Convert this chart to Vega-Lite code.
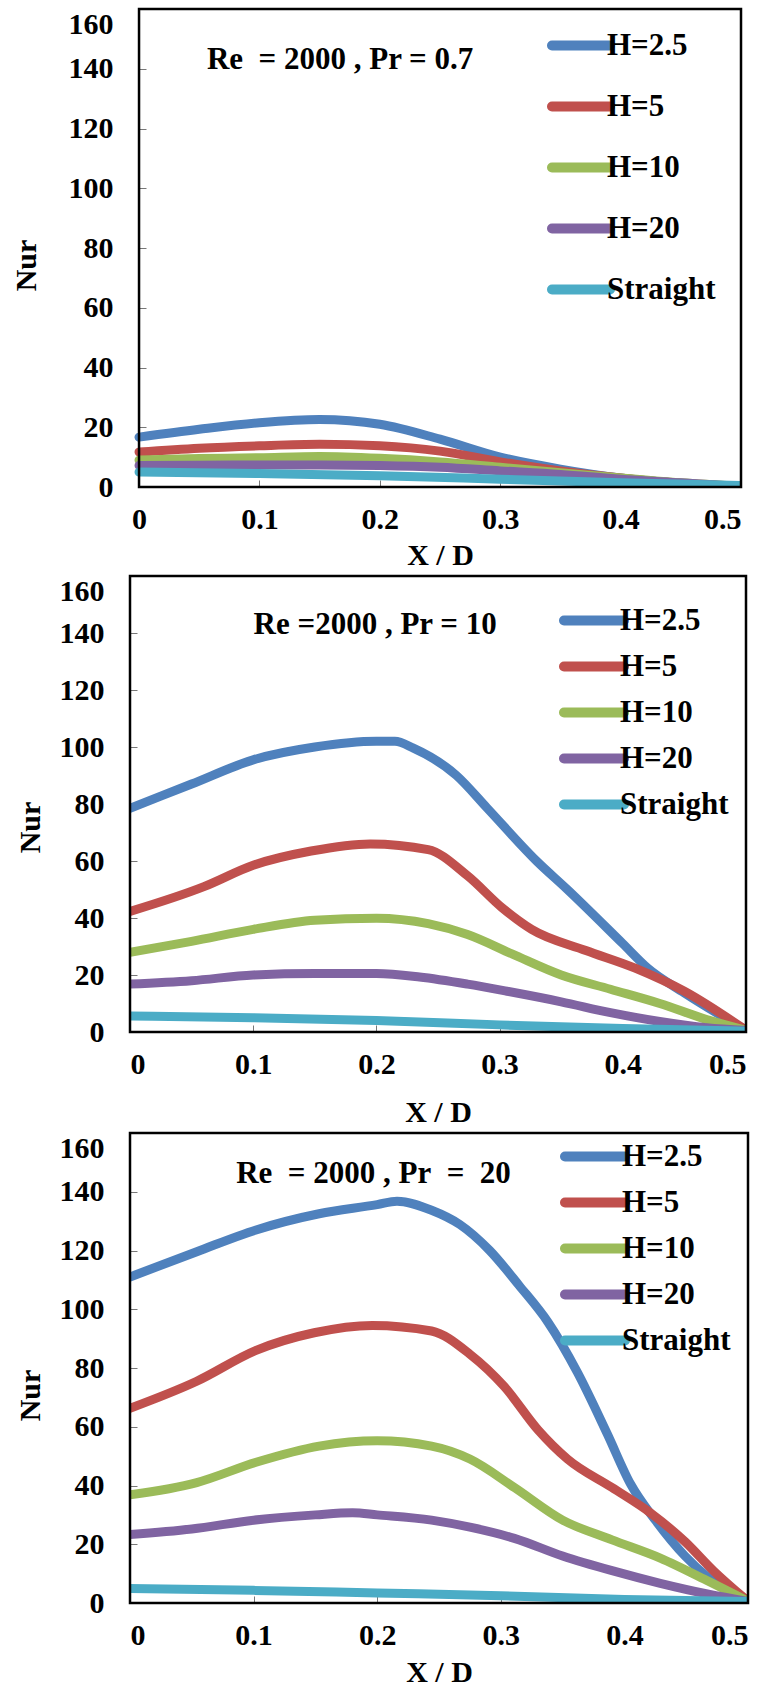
{
  "$schema": "https://vega.github.io/schema/vega-lite/v6.json",
  "background": "white",
  "padding": {"left": 11, "top": 7, "right": 5, "bottom": 0},
  "datasets": {
    "p1": [
      {"x":0,"v":16.7,"s":"H=2.5"},{"x":0.05,"v":19.3,"s":"H=2.5"},{"x":0.1,"v":21.5,"s":"H=2.5"},{"x":0.15,"v":22.6,"s":"H=2.5"},{"x":0.2,"v":21,"s":"H=2.5"},{"x":0.25,"v":16,"s":"H=2.5"},{"x":0.3,"v":10,"s":"H=2.5"},{"x":0.35,"v":6,"s":"H=2.5"},{"x":0.4,"v":3,"s":"H=2.5"},{"x":0.45,"v":1.2,"s":"H=2.5"},{"x":0.5,"v":0.2,"s":"H=2.5"},
      {"x":0,"v":11.7,"s":"H=5"},{"x":0.05,"v":13,"s":"H=5"},{"x":0.1,"v":13.8,"s":"H=5"},{"x":0.15,"v":14.3,"s":"H=5"},{"x":0.2,"v":13.8,"s":"H=5"},{"x":0.25,"v":12,"s":"H=5"},{"x":0.3,"v":8.4,"s":"H=5"},{"x":0.35,"v":5.4,"s":"H=5"},{"x":0.4,"v":3,"s":"H=5"},{"x":0.45,"v":1.2,"s":"H=5"},{"x":0.5,"v":0.2,"s":"H=5"},
      {"x":0,"v":9,"s":"H=10"},{"x":0.05,"v":9.5,"s":"H=10"},{"x":0.1,"v":9.8,"s":"H=10"},{"x":0.15,"v":10.2,"s":"H=10"},{"x":0.2,"v":9.6,"s":"H=10"},{"x":0.25,"v":8.4,"s":"H=10"},{"x":0.3,"v":6.6,"s":"H=10"},{"x":0.35,"v":4.8,"s":"H=10"},{"x":0.4,"v":3,"s":"H=10"},{"x":0.45,"v":1.4,"s":"H=10"},{"x":0.5,"v":0.2,"s":"H=10"},
      {"x":0,"v":7.2,"s":"H=20"},{"x":0.05,"v":7.3,"s":"H=20"},{"x":0.1,"v":7.4,"s":"H=20"},{"x":0.15,"v":7.4,"s":"H=20"},{"x":0.2,"v":7.2,"s":"H=20"},{"x":0.25,"v":6.6,"s":"H=20"},{"x":0.3,"v":5.4,"s":"H=20"},{"x":0.35,"v":4.2,"s":"H=20"},{"x":0.4,"v":2.6,"s":"H=20"},{"x":0.45,"v":1.4,"s":"H=20"},{"x":0.5,"v":0.2,"s":"H=20"},
      {"x":0,"v":5,"s":"Straight"},{"x":0.1,"v":4.5,"s":"Straight"},{"x":0.2,"v":3.8,"s":"Straight"},{"x":0.3,"v":2.6,"s":"Straight"},{"x":0.4,"v":1.4,"s":"Straight"},{"x":0.5,"v":0.5,"s":"Straight"}
    ],
    "p2": [
      {"x":0,"v":78.5,"s":"H=2.5"},{"x":0.05,"v":87,"s":"H=2.5"},{"x":0.1,"v":95.5,"s":"H=2.5"},{"x":0.15,"v":100,"s":"H=2.5"},{"x":0.2,"v":102,"s":"H=2.5"},{"x":0.215,"v":102,"s":"H=2.5"},{"x":0.23,"v":99.6,"s":"H=2.5"},{"x":0.265,"v":90,"s":"H=2.5"},{"x":0.29,"v":78.5,"s":"H=2.5"},{"x":0.33,"v":60,"s":"H=2.5"},{"x":0.355,"v":50,"s":"H=2.5"},{"x":0.4,"v":31,"s":"H=2.5"},{"x":0.42,"v":22.5,"s":"H=2.5"},{"x":0.45,"v":13.7,"s":"H=2.5"},{"x":0.5,"v":0.6,"s":"H=2.5"},
      {"x":0,"v":42.3,"s":"H=5"},{"x":0.06,"v":51,"s":"H=5"},{"x":0.1,"v":58.5,"s":"H=5"},{"x":0.147,"v":63.5,"s":"H=5"},{"x":0.195,"v":66,"s":"H=5"},{"x":0.242,"v":64,"s":"H=5"},{"x":0.274,"v":54.8,"s":"H=5"},{"x":0.302,"v":43.6,"s":"H=5"},{"x":0.326,"v":36,"s":"H=5"},{"x":0.37,"v":28.6,"s":"H=5"},{"x":0.41,"v":22.4,"s":"H=5"},{"x":0.45,"v":14.3,"s":"H=5"},{"x":0.5,"v":0.6,"s":"H=5"},
      {"x":0,"v":28,"s":"H=10"},{"x":0.05,"v":31.8,"s":"H=10"},{"x":0.1,"v":36,"s":"H=10"},{"x":0.15,"v":39.2,"s":"H=10"},{"x":0.2,"v":39.9,"s":"H=10"},{"x":0.242,"v":38,"s":"H=10"},{"x":0.274,"v":34.2,"s":"H=10"},{"x":0.31,"v":27.4,"s":"H=10"},{"x":0.35,"v":20,"s":"H=10"},{"x":0.39,"v":15,"s":"H=10"},{"x":0.43,"v":10,"s":"H=10"},{"x":0.468,"v":4.4,"s":"H=10"},{"x":0.5,"v":0.6,"s":"H=10"},
      {"x":0,"v":16.8,"s":"H=20"},{"x":0.05,"v":18,"s":"H=20"},{"x":0.1,"v":20,"s":"H=20"},{"x":0.15,"v":20.5,"s":"H=20"},{"x":0.2,"v":20.5,"s":"H=20"},{"x":0.235,"v":19.3,"s":"H=20"},{"x":0.274,"v":16.8,"s":"H=20"},{"x":0.306,"v":14.3,"s":"H=20"},{"x":0.35,"v":10.6,"s":"H=20"},{"x":0.39,"v":6.8,"s":"H=20"},{"x":0.43,"v":3.7,"s":"H=20"},{"x":0.468,"v":1.5,"s":"H=20"},{"x":0.5,"v":0.5,"s":"H=20"},
      {"x":0,"v":5.6,"s":"Straight"},{"x":0.1,"v":5,"s":"Straight"},{"x":0.2,"v":4,"s":"Straight"},{"x":0.3,"v":2.5,"s":"Straight"},{"x":0.4,"v":1.2,"s":"Straight"},{"x":0.5,"v":0.3,"s":"Straight"}
    ],
    "p3": [
      {"x":0,"v":111,"s":"H=2.5"},{"x":0.054,"v":119.6,"s":"H=2.5"},{"x":0.102,"v":127,"s":"H=2.5"},{"x":0.153,"v":132.5,"s":"H=2.5"},{"x":0.2,"v":135.6,"s":"H=2.5"},{"x":0.216,"v":136.8,"s":"H=2.5"},{"x":0.244,"v":133.7,"s":"H=2.5"},{"x":0.267,"v":128.8,"s":"H=2.5"},{"x":0.291,"v":120,"s":"H=2.5"},{"x":0.315,"v":108,"s":"H=2.5"},{"x":0.338,"v":95.7,"s":"H=2.5"},{"x":0.362,"v":78.5,"s":"H=2.5"},{"x":0.386,"v":57.7,"s":"H=2.5"},{"x":0.405,"v":40.5,"s":"H=2.5"},{"x":0.425,"v":28.2,"s":"H=2.5"},{"x":0.449,"v":16,"s":"H=2.5"},{"x":0.468,"v":8.6,"s":"H=2.5"},{"x":0.5,"v":0.6,"s":"H=2.5"},
      {"x":0,"v":66.3,"s":"H=5"},{"x":0.054,"v":75.5,"s":"H=5"},{"x":0.102,"v":86,"s":"H=5"},{"x":0.149,"v":92,"s":"H=5"},{"x":0.196,"v":94.5,"s":"H=5"},{"x":0.244,"v":92.6,"s":"H=5"},{"x":0.275,"v":84.7,"s":"H=5"},{"x":0.303,"v":73.6,"s":"H=5"},{"x":0.33,"v":59,"s":"H=5"},{"x":0.354,"v":49,"s":"H=5"},{"x":0.39,"v":39.3,"s":"H=5"},{"x":0.421,"v":30.7,"s":"H=5"},{"x":0.449,"v":20.9,"s":"H=5"},{"x":0.472,"v":11,"s":"H=5"},{"x":0.5,"v":0.6,"s":"H=5"},
      {"x":0,"v":36.8,"s":"H=10"},{"x":0.054,"v":41,"s":"H=10"},{"x":0.102,"v":47.9,"s":"H=10"},{"x":0.153,"v":53.4,"s":"H=10"},{"x":0.2,"v":55.2,"s":"H=10"},{"x":0.244,"v":53.4,"s":"H=10"},{"x":0.275,"v":49,"s":"H=10"},{"x":0.311,"v":39.3,"s":"H=10"},{"x":0.35,"v":28.2,"s":"H=10"},{"x":0.39,"v":21.5,"s":"H=10"},{"x":0.429,"v":15.3,"s":"H=10"},{"x":0.468,"v":7.4,"s":"H=10"},{"x":0.5,"v":0.6,"s":"H=10"},
      {"x":0,"v":23.3,"s":"H=20"},{"x":0.05,"v":25.2,"s":"H=20"},{"x":0.1,"v":28.2,"s":"H=20"},{"x":0.15,"v":30,"s":"H=20"},{"x":0.18,"v":30.7,"s":"H=20"},{"x":0.2,"v":30,"s":"H=20"},{"x":0.244,"v":28.2,"s":"H=20"},{"x":0.275,"v":25.8,"s":"H=20"},{"x":0.311,"v":22,"s":"H=20"},{"x":0.35,"v":16,"s":"H=20"},{"x":0.39,"v":11,"s":"H=20"},{"x":0.429,"v":6.7,"s":"H=20"},{"x":0.468,"v":3,"s":"H=20"},{"x":0.5,"v":0.5,"s":"H=20"},
      {"x":0,"v":4.9,"s":"Straight"},{"x":0.1,"v":4.3,"s":"Straight"},{"x":0.2,"v":3.4,"s":"Straight"},{"x":0.3,"v":2.5,"s":"Straight"},{"x":0.4,"v":1.2,"s":"Straight"},{"x":0.5,"v":0.5,"s":"Straight"}
    ],
    "a1": [{"x":0.167,"v":142.9,"t":"Re\u00a0 = 2000 , Pr = 0.7"}],
    "a2": [{"x":0.199,"v":142.8,"t":"Re =2000 , Pr = 10"}],
    "a3": [{"x":0.197,"v":146.0,"t":"Re\u00a0 = 2000 , Pr\u00a0 = \u00a020"}],
    "frame": [{"x0":0,"x1":0.5,"y0":0,"y1":160}]
  },
  "concat": [
    {
      "width": 611, "height": 478,
      "layer": [
        {
          "data": {"name": "p1"},
          "mark": {"type": "line", "interpolate": "monotone", "strokeWidth": 9, "clip": true, "strokeCap": "round"},
          "encoding": {
            "x": {"field": "x", "type": "quantitative", "scale": {"domain": [-0.0075, 0.5], "nice": false, "zero": false}, "axis": {"values": [0, 0.1, 0.2, 0.3, 0.4, 0.5], "format": "~g", "title": "X / D", "titleX": 310, "titleY": 53, "labelPadding": 24}},
            "y": {"field": "v", "type": "quantitative", "scale": {"domain": [0, 160], "nice": false}, "axis": {"values": [0, 20, 40, 60, 80, 100, 120, 140, 160], "offset": -9, "title": "Nur", "titleX": -98, "titleY": 256, "labelPadding": 33, "labelBaseline": {"condition": {"test": "datum.value === 160", "value": "top"}, "value": "middle"}}},
            "color": {"field": "s", "type": "nominal", "scale": {"domain": ["H=2.5", "H=5", "H=10", "H=20", "Straight"], "range": ["#4F81BD", "#C0504D", "#9BBB59", "#8064A2", "#4BACC6"]},
              "legend": {"orient": "none", "legendX": 417, "legendY": 21, "clipHeight": 31, "title": null, "symbolType": "stroke", "symbolStrokeWidth": 10, "symbolSize": 3364, "labelFont": "Liberation Serif", "labelFontWeight": "bold", "labelFontSize": 31, "labelColor": "black", "labelOffset": -8, "rowPadding": 29, "padding": 0, "labelLimit": 300, "encode": {"symbols": {"update": {"strokeCap": {"value": "round"}}}}}}
          }
        },
        {
          "data": {"name": "a1"},
          "mark": {"type": "text", "font": "Liberation Serif", "fontWeight": "bold", "fontSize": 31, "color": "black"},
          "encoding": {"x": {"field": "x", "type": "quantitative"}, "y": {"field": "v", "type": "quantitative"}, "text": {"field": "t"}}
        },
        {
          "data": {"name": "frame"},
          "mark": {"type": "rect", "filled": false, "stroke": "black", "strokeWidth": 2.5},
          "encoding": {"x": {"field": "x0", "type": "quantitative"}, "x2": {"field": "x1"}, "y": {"field": "y0", "type": "quantitative"}, "y2": {"field": "y1"}}
        }
      ]
    },
    {
      "width": 616, "height": 456,
      "layer": [
        {
          "data": {"name": "p2"},
          "mark": {"type": "line", "interpolate": "monotone", "strokeWidth": 9, "clip": true, "strokeCap": "round"},
          "encoding": {
            "x": {"field": "x", "type": "quantitative", "scale": {"domain": [0, 0.5], "nice": false}, "axis": {"values": [0, 0.1, 0.2, 0.3, 0.4, 0.5], "format": "~g", "title": "X / D", "titleY": 65, "labelPadding": 24}},
            "y": {"field": "v", "type": "quantitative", "scale": {"domain": [0, 160], "nice": false}, "axis": {"values": [0, 20, 40, 60, 80, 100, 120, 140, 160], "title": "Nur", "titleX": -85, "titleY": 251, "labelPadding": 33, "labelBaseline": {"condition": {"test": "datum.value === 160", "value": "top"}, "value": "middle"}}},
            "color": {"field": "s", "type": "nominal", "scale": {"domain": ["H=2.5", "H=5", "H=10", "H=20", "Straight"], "range": ["#4F81BD", "#C0504D", "#9BBB59", "#8064A2", "#4BACC6"]},
              "legend": {"orient": "none", "legendX": 429, "legendY": 29, "clipHeight": 31, "title": null, "symbolType": "stroke", "symbolStrokeWidth": 10, "symbolSize": 3600, "labelFont": "Liberation Serif", "labelFontWeight": "bold", "labelFontSize": 31, "labelColor": "black", "labelOffset": -9, "rowPadding": 14, "padding": 0, "labelLimit": 300, "encode": {"symbols": {"update": {"strokeCap": {"value": "round"}}}}}}
          }
        },
        {
          "data": {"name": "a2"},
          "mark": {"type": "text", "font": "Liberation Serif", "fontWeight": "bold", "fontSize": 31, "color": "black"},
          "encoding": {"x": {"field": "x", "type": "quantitative"}, "y": {"field": "v", "type": "quantitative"}, "text": {"field": "t"}}
        },
        {
          "data": {"name": "frame"},
          "mark": {"type": "rect", "filled": false, "stroke": "black", "strokeWidth": 2.5},
          "encoding": {"x": {"field": "x0", "type": "quantitative"}, "x2": {"field": "x1"}, "y": {"field": "y0", "type": "quantitative"}, "y2": {"field": "y1"}}
        }
      ]
    },
    {
      "width": 618, "height": 470,
      "layer": [
        {
          "data": {"name": "p3"},
          "mark": {"type": "line", "interpolate": "monotone", "strokeWidth": 9, "clip": true, "strokeCap": "round"},
          "encoding": {
            "x": {"field": "x", "type": "quantitative", "scale": {"domain": [0, 0.5], "nice": false}, "axis": {"values": [0, 0.1, 0.2, 0.3, 0.4, 0.5], "format": "~g", "title": "X / D", "titleY": 54, "labelPadding": 24}},
            "y": {"field": "v", "type": "quantitative", "scale": {"domain": [0, 160], "nice": false}, "axis": {"values": [0, 20, 40, 60, 80, 100, 120, 140, 160], "title": "Nur", "titleX": -85, "titleY": 262, "labelPadding": 33, "labelBaseline": {"condition": {"test": "datum.value === 160", "value": "top"}, "value": "middle"}}},
            "color": {"field": "s", "type": "nominal", "scale": {"domain": ["H=2.5", "H=5", "H=10", "H=20", "Straight"], "range": ["#4F81BD", "#C0504D", "#9BBB59", "#8064A2", "#4BACC6"]},
              "legend": {"orient": "none", "legendX": 430, "legendY": 8, "clipHeight": 31, "title": null, "symbolType": "stroke", "symbolStrokeWidth": 10, "symbolSize": 3600, "labelFont": "Liberation Serif", "labelFontWeight": "bold", "labelFontSize": 31, "labelColor": "black", "labelOffset": -8, "rowPadding": 14, "padding": 0, "labelLimit": 300, "encode": {"symbols": {"update": {"strokeCap": {"value": "round"}}}}}}
          }
        },
        {
          "data": {"name": "a3"},
          "mark": {"type": "text", "font": "Liberation Serif", "fontWeight": "bold", "fontSize": 31, "color": "black"},
          "encoding": {"x": {"field": "x", "type": "quantitative"}, "y": {"field": "v", "type": "quantitative"}, "text": {"field": "t"}}
        },
        {
          "data": {"name": "frame"},
          "mark": {"type": "rect", "filled": false, "stroke": "black", "strokeWidth": 2.5},
          "encoding": {"x": {"field": "x0", "type": "quantitative"}, "x2": {"field": "x1"}, "y": {"field": "y0", "type": "quantitative"}, "y2": {"field": "y1"}}
        }
      ]
    }
  ],
  "columns": 1,
  "bounds": "full",
  "spacing": 4,
  "resolve": {"scale": {"color": "independent", "x": "independent", "y": "independent"}, "legend": {"color": "independent"}},
  "config": {
    "view": {"stroke": null},
    "font": "Liberation Serif",
    "axis": {"labelFont": "Liberation Serif", "labelFontWeight": "bold", "labelFontSize": 30, "labelColor": "black", "titleFont": "Liberation Serif", "titleFontWeight": "bold", "titleFontSize": 30, "titleColor": "black", "grid": false, "domain": false, "ticks": true, "tickColor": "#777777", "tickSize": -7, "tickWidth": 1}
  }
}
